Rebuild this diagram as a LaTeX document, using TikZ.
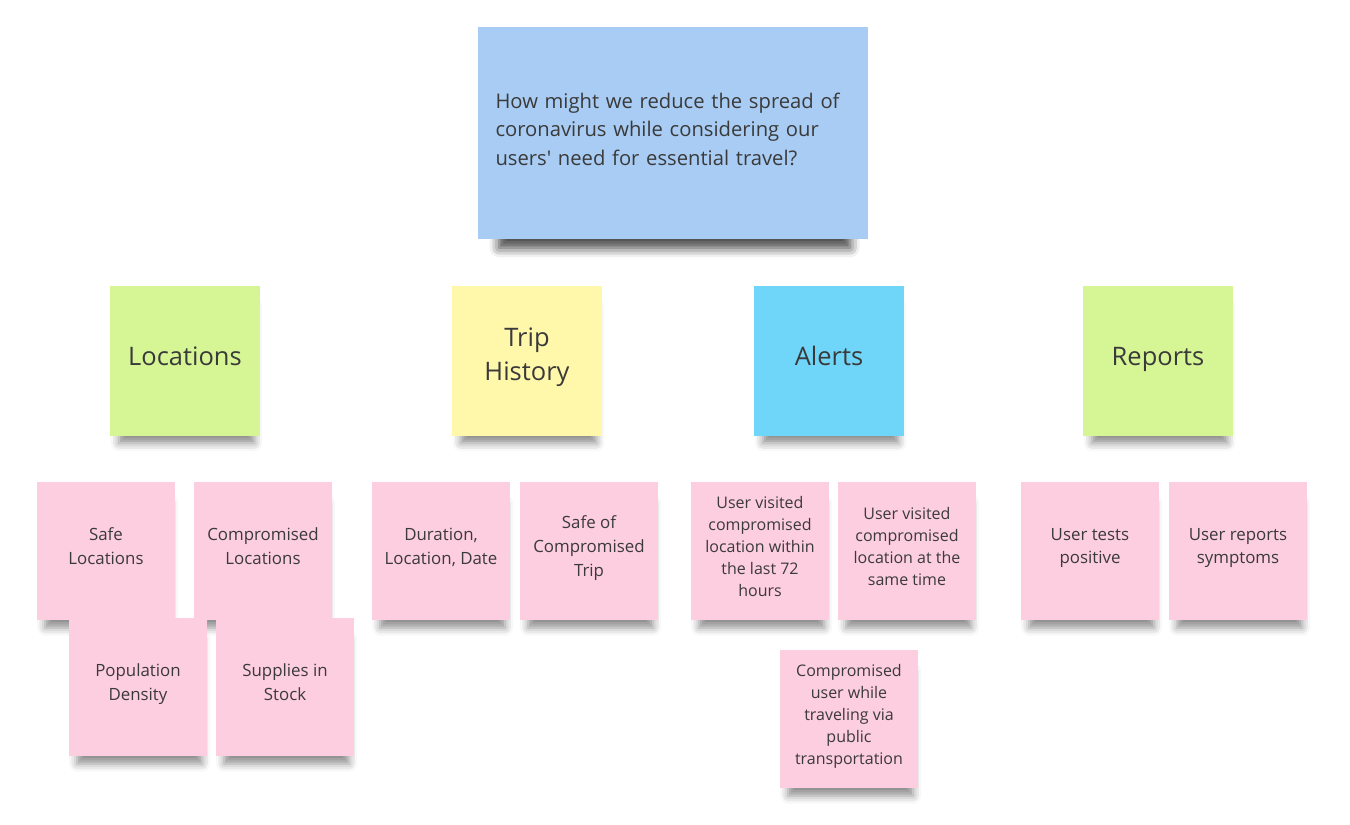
\documentclass[tikz,border=0pt]{standalone}
\usepackage{fontspec}
\setmainfont{Open Sans}
\usetikzlibrary{shadows.blur}

\definecolor{noteblue}{HTML}{A8CCF3}
\definecolor{notegreen}{HTML}{D6F594}
\definecolor{noteyellow}{HTML}{FFF7AA}
\definecolor{notecyan}{HTML}{6FD6F9}
\definecolor{notepink}{HTML}{FDCDE0}
\definecolor{notetext}{HTML}{3A3A3A}

\begin{document}
\begin{tikzpicture}[
        x=0.02cm,
        y=-0.02cm,
        note/.style={
            rectangle,
            align=center,
            inner sep=0pt,
            text=notetext,
            execute at begin node=\strut,
            execute at end node={\rule[-0.42\baselineskip]{0pt}{0pt}},
            blur shadow={shadow xshift=1pt, shadow yshift=-9pt,
                shadow scale=0.9, shadow blur radius=5pt, shadow opacity=45}
        },
        bignote/.style={
            note,
            minimum width=3.02cm,
            minimum height=3.02cm,
            font=\fontsize{14.5}{19.3}\selectfont
        },
        smallnote/.style={
            note,
            fill=notepink,
            minimum width=2.78cm,
            minimum height=2.78cm,
            font=\fontsize{9.6}{13.6}\selectfont
        },
        smalltext/.style={
            font=\fontsize{9.1}{12.6}\selectfont
        }
    ]
        \useasboundingbox (0,0) rectangle (1350,825);

        % question
        \node[note, fill=noteblue, minimum width=7.8cm, minimum height=4.26cm,
            text width=7.1cm, align=left, font=\fontsize{11.5}{16.2}\selectfont,
            blur shadow={shadow xshift=1pt, shadow yshift=-12pt, shadow scale=0.9,
                shadow blur radius=6pt, shadow opacity=45}]
            (question) at (673,133) {How might we reduce the spread of\\coronavirus while considering our\\users\textquotesingle{} need for essential travel?};

        % themes
        \node[bignote, fill=notegreen] (locations) at (185,361) {Locations};
        \node[bignote, fill=noteyellow] (trip) at (527,361) {Trip\\History};
        \node[bignote, fill=notecyan] (alerts) at (829,361) {Alerts};
        \node[bignote, fill=notegreen] (reports) at (1158,361) {Reports};

        % ideas, first row
        \node[smallnote] (safeloc) at (106,551) {Safe\\Locations};
        \node[smallnote] (comploc) at (263,551) {Compromised\\Locations};
        \node[smallnote] (duration) at (441,551) {Duration,\\Location, Date};
        \node[smallnote] (safetrip) at (589,551) {Safe of\\Compromised\\Trip};
        \node[smallnote, smalltext] (visited) at (760,551) {User visited\\compromised\\location within\\the last 72\\hours};
        \node[smallnote, smalltext] (sametime) at (907,551) {User visited\\compromised\\location at the\\same time};
        \node[smallnote] (positive) at (1090,551) {User tests\\positive};
        \node[smallnote] (symptoms) at (1238,551) {User reports\\symptoms};

        % ideas, second row
        \node[smallnote] (density) at (138,687) {Population\\Density};
        \node[smallnote] (supplies) at (285,687) {Supplies in\\Stock};
        \node[smallnote, smalltext] (transport) at (849,719) {Compromised\\user while\\traveling via\\public\\transportation};

    \end{tikzpicture}
\end{document}
